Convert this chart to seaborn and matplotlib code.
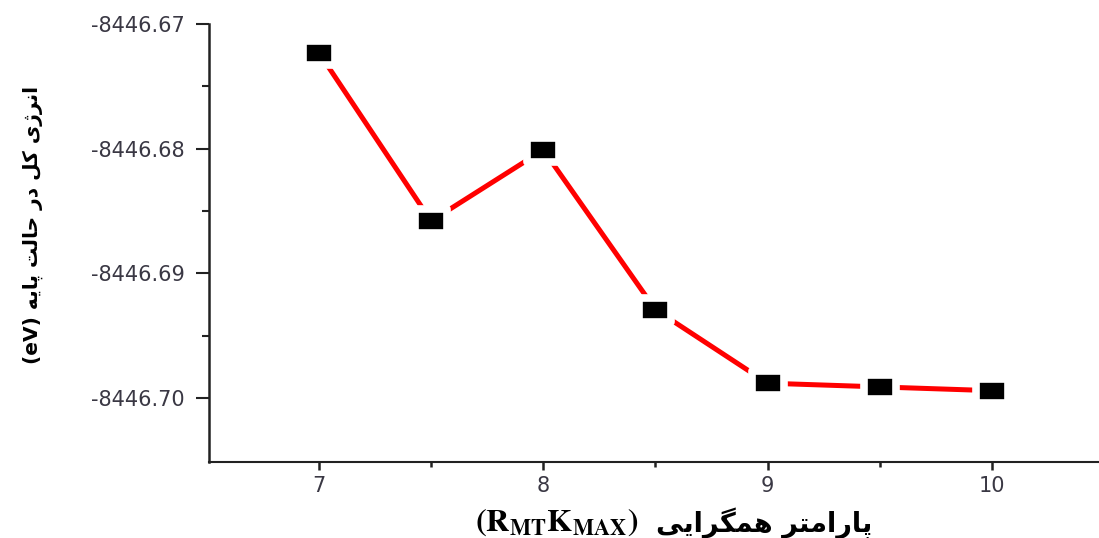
import numpy as np
import pandas as pd
import matplotlib
matplotlib.use("Agg")
import matplotlib.pyplot as plt
from matplotlib.path import Path
from matplotlib.ticker import FixedLocator, MultipleLocator, StrMethodFormatter
import seaborn as sns

# Convergence parameter R_MT*K_MAX and total ground-state energy (eV)
rkmax = [7, 7.5, 8, 8.5, 9, 9.5, 10]
energy = [-8446.6723, -8446.6858, -8446.6801, -8446.6929, -8446.6988, -8446.6991, -8446.6994]

y_ticks = [-8446.67, -8446.68, -8446.69, -8446.70]
y_minor = [-8446.675, -8446.685, -8446.695]
x_ticks = [7, 8, 9, 10]

y_title_fa = "انرژی کل در حالت پایه"
y_title_unit = "(eV)"
x_title_fa = "پارامتر همگرایی"
x_title_sym = r"$\mathbf{(R_{MT}K_{MAX})}$"

# --- minimal Persian shaping (presentation forms, visual order) ---
# letter: (isolated, final, initial, medial); right-joining letters have only two forms
FORMS = {
    "ا": ("\uFE8D", "\uFE8E"),
    "د": ("\uFEA9", "\uFEAA"),
    "ر": ("\uFEAD", "\uFEAE"),
    "ژ": ("\uFB8A", "\uFB8B"),
    "ن": ("\uFEE5", "\uFEE6", "\uFEE7", "\uFEE8"),
    "ی": ("\uFBFC", "\uFBFD", "\uFBFE", "\uFBFF"),
    "ک": ("\uFB8E", "\uFB8F", "\uFB90", "\uFB91"),
    "ل": ("\uFEDD", "\uFEDE", "\uFEDF", "\uFEE0"),
    "ح": ("\uFEA1", "\uFEA2", "\uFEA3", "\uFEA4"),
    "ت": ("\uFE95", "\uFE96", "\uFE97", "\uFE98"),
    "پ": ("\uFB56", "\uFB57", "\uFB58", "\uFB59"),
    "ه": ("\uFEE9", "\uFEEA", "\uFEEB", "\uFEEC"),
    "م": ("\uFEE1", "\uFEE2", "\uFEE3", "\uFEE4"),
    "گ": ("\uFB92", "\uFB93", "\uFB94", "\uFB95"),
}


def shape_fa(text):
    out = []
    n = len(text)
    for i, ch in enumerate(text):
        if ch not in FORMS:
            out.append(ch)
            continue
        prev = text[i - 1] if i > 0 else None
        nxt = text[i + 1] if i + 1 < n else None
        join_prev = prev in FORMS and len(FORMS[prev]) == 4
        join_next = len(FORMS[ch]) == 4 and nxt in FORMS
        f = FORMS[ch]
        if join_prev and join_next:
            out.append(f[3])
        elif join_prev:
            out.append(f[1])
        elif join_next:
            out.append(f[2])
        else:
            out.append(f[0])
    return "".join(out)[::-1]


sns.set_style("ticks")
plt.rcParams["font.family"] = ["DejaVu Sans"]
plt.rcParams["axes.unicode_minus"] = False
plt.rcParams["mathtext.fontset"] = "stix"

fig = plt.figure(figsize=(10.99, 5.38), dpi=100)
W, H = 1099, 538
ax = fig.add_axes([209 / W, 1 - 462 / H, 1 - 209 / W, (462 - 24) / H])

df = pd.DataFrame({"rkmax": rkmax, "energy": energy})

# wide black rectangle marker
rect = Path([(-15, -11), (15, -11), (15, 11), (-15, 11), (-15, -11)],
            [Path.MOVETO, Path.LINETO, Path.LINETO, Path.LINETO, Path.CLOSEPOLY])

sns.lineplot(data=df, x="rkmax", y="energy", ax=ax, estimator=None, sort=False,
             color="#ff0000", linewidth=3.6, marker=rect, markersize=23,
             markerfacecolor="black", markeredgecolor="white", markeredgewidth=5.5)

ax.set_xlim(6.51, 10.477)
ax.set_ylim(-8446.70512, -8446.67)
ax.set_yticks(y_ticks)
ax.yaxis.set_major_formatter(StrMethodFormatter("{x:.2f}"))
ax.yaxis.set_minor_locator(FixedLocator(y_minor))
ax.set_xticks(x_ticks)
ax.set_xticklabels([str(v) for v in x_ticks])
ax.xaxis.set_minor_locator(MultipleLocator(0.5))

for s in ("top", "right"):
    ax.spines[s].set_visible(False)
ax.spines["left"].set_linewidth(1.8)
ax.spines["bottom"].set_linewidth(1.5)
ax.spines["left"].set_color("#222222")
ax.spines["bottom"].set_color("#222222")

ax.tick_params(axis="y", which="major", direction="out", length=9.4, width=1.5,
               color="#222222", labelsize=15, labelcolor="#3a3844", pad=8)
ax.tick_params(axis="y", which="minor", direction="out", length=5, width=1.5,
               color="#222222")
ax.tick_params(axis="x", which="major", direction="out", length=5.8, width=1.8,
               color="#222222", labelsize=15, labelcolor="#3a3844", pad=4)
ax.tick_params(axis="x", which="minor", direction="out", length=3.6, width=1.8,
               color="#222222")

ax.set_xlabel("")
ax.set_ylabel(y_title_unit + " " + shape_fa(y_title_fa), fontsize=14.5,
              fontweight="bold", color="black")
ax.yaxis.set_label_coords(-0.187, 0.541)

fig.text(638 / W, 1 - 523 / H, x_title_sym, ha="right", va="center",
         fontsize=23, color="black")
fig.text(656 / W, 1 - 523 / H, shape_fa(x_title_fa), ha="left", va="center",
         fontsize=19.5, fontweight="bold", color="black")

fig.savefig("out.png", dpi=100, facecolor="white")
